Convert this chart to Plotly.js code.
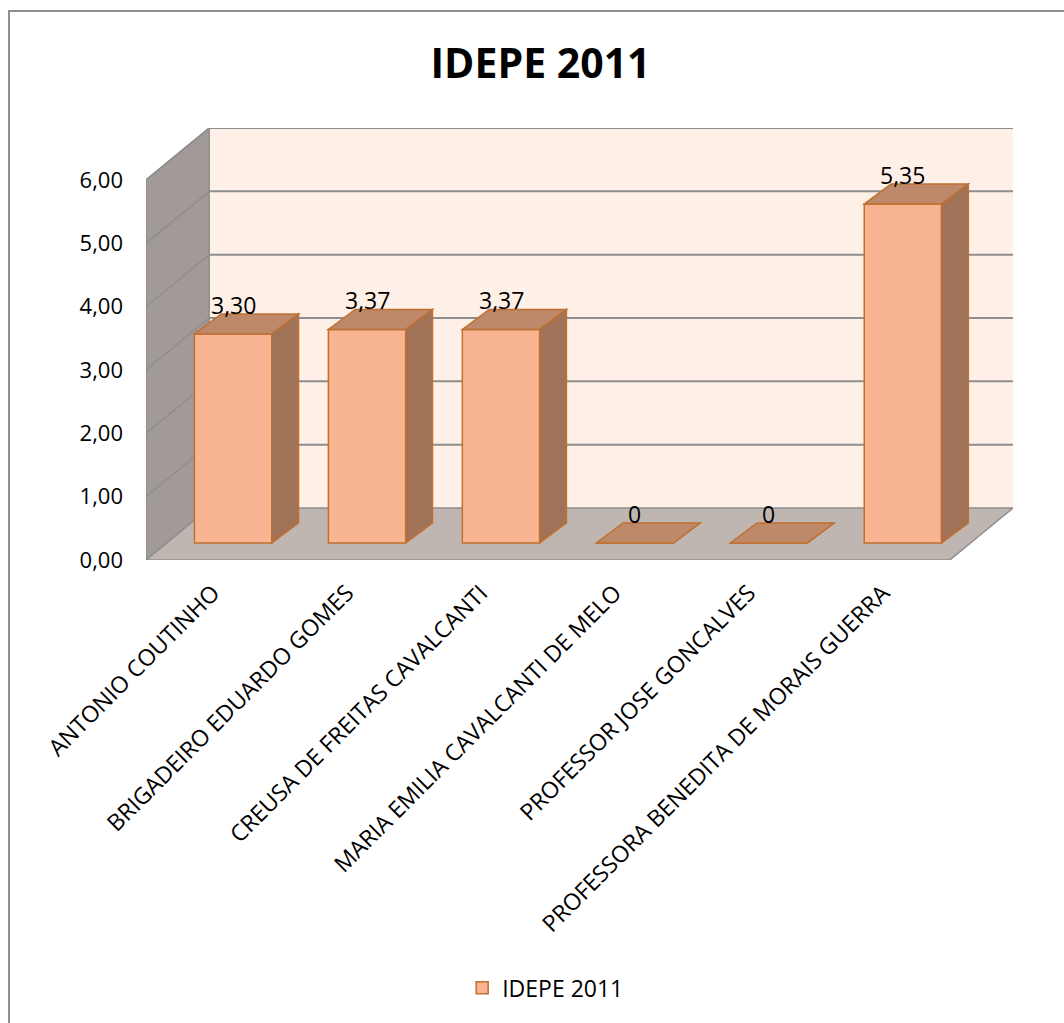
<!DOCTYPE html>
<html>
<head>
<meta charset="utf-8">
<script src="https://cdn.plot.ly/plotly-3.0.1.min.js"></script>
<style>
  html, body { margin: 0; padding: 0; background: #ffffff; overflow: hidden; }
  #chart { width: 1064px; height: 1023px; }
</style>
</head>
<body>
<div id="chart"></div>
<script>
// ---- data ----
const categories = [
  "ANTONIO COUTINHO",
  "BRIGADEIRO EDUARDO GOMES",
  "CREUSA DE FREITAS CAVALCANTI",
  "MARIA EMILIA CAVALCANTI DE MELO",
  "PROFESSOR JOSE GONCALVES",
  "PROFESSORA BENEDITA DE MORAIS GUERRA"
];
const values = [3.30, 3.37, 3.37, 0, 0, 5.35];
const seriesName = "IDEPE 2011";
const yTicks = [0, 1, 2, 3, 4, 5, 6];

// ---- 3D look parameters (in axis units) ----
const WALL_DX = 0.472, WALL_DY = 0.821;   // depth of the box (back wall offset)
const BAR_DX = 0.15, BAR_DY = 0.27;       // bar front face offset from front plane
const TOP_DX = 0.20, TOP_DY = 0.316;      // bar depth
const BAR_W = 0.577;
const YMAX = 6;

const fmt = v => v === 0 ? "0" : v.toFixed(2).replace(".", ",");
const idx = categories.map((c, i) => i);

const cFront = "#F9B592", cTop = "#BE896B", cSide = "#A07258", cEdge = "#C0702F";
const cGrid = "#8E8E8E", cBack = "#FEEFE7", cLeft = "#A29A96", cFloor = "#C0B6B1";

const shapes = [];
const X0 = -0.5, X1 = categories.length - 0.5;
// back wall
shapes.push({type: "rect", layer: "below", xref: "x", yref: "y",
  x0: X0 + WALL_DX, x1: X1 + WALL_DX, y0: WALL_DY, y1: YMAX + WALL_DY,
  fillcolor: cBack, line: {width: 0}});
// left wall
shapes.push({type: "path", layer: "below", xref: "x", yref: "y",
  path: `M${X0},0 L${X0},${YMAX} L${X0 + WALL_DX},${YMAX + WALL_DY} L${X0 + WALL_DX},${WALL_DY} Z`,
  fillcolor: cLeft, line: {color: cGrid, width: 1.5}});
// floor
shapes.push({type: "path", layer: "below", xref: "x", yref: "y",
  path: `M${X0},0 L${X1},0 L${X1 + WALL_DX},${WALL_DY} L${X0 + WALL_DX},${WALL_DY} Z`,
  fillcolor: cFloor, line: {color: cGrid, width: 1.5}});
// gridlines on back wall & left wall
yTicks.forEach(v => {
  if (v === 0) return;
  shapes.push({type: "line", layer: "below", xref: "x", yref: "y",
    x0: X0 + WALL_DX, x1: X1 + WALL_DX, y0: v + WALL_DY, y1: v + WALL_DY,
    line: {color: cGrid, width: 2}});
  shapes.push({type: "line", layer: "below", xref: "x", yref: "y",
    x0: X0, x1: X0 + WALL_DX, y0: v, y1: v + WALL_DY,
    line: {color: cGrid, width: 1.5}});
});
// bar top and side faces
values.forEach((v, i) => {
  const xl = i + BAR_DX - BAR_W / 2, xr = i + BAR_DX + BAR_W / 2;
  const b = BAR_DY, t = BAR_DY + v;
  shapes.push({type: "path", layer: "above", xref: "x", yref: "y",
    path: `M${xl},${t} L${xr},${t} L${xr + TOP_DX},${t + TOP_DY} L${xl + TOP_DX},${t + TOP_DY} Z`,
    fillcolor: cTop, line: {color: cEdge, width: 1.5}});
  if (v > 0) {
    shapes.push({type: "path", layer: "above", xref: "x", yref: "y",
      path: `M${xr},${b} L${xr},${t} L${xr + TOP_DX},${t + TOP_DY} L${xr + TOP_DX},${b + TOP_DY} Z`,
      fillcolor: cSide, line: {color: cEdge, width: 1.5}});
  }
});
// chart frame (left and top edges)
shapes.push({type: "path", layer: "above", xref: "paper", yref: "paper",
  path: "M-0.158,-1.08 L-0.158,1.271 L1.07,1.271",
  line: {color: "#8f8f8f", width: 2}});

const annotations = values.map((v, i) => ({
  xref: "x", yref: "y", x: i + BAR_DX, y: v + BAR_DY + TOP_DY,
  text: fmt(v), showarrow: false, yanchor: "bottom", yshift: -9,
  font: {family: "Open Sans", size: 23, color: "#000"}
}));

const trace = {
  type: "bar",
  name: seriesName,
  x: idx.map(i => i + BAR_DX),
  y: values,
  base: BAR_DY,
  width: BAR_W,
  marker: {color: cFront, line: {color: cEdge, width: 1.5}},
  hoverinfo: "skip",
  showlegend: true
};

const layout = {
  width: 1064, height: 1023,
  margin: {l: 146, r: 51, t: 128, b: 463},
  paper_bgcolor: "#ffffff",
  plot_bgcolor: "rgba(0,0,0,0)",
  separators: ",.",
  title: {text: "<b>IDEPE 2011</b>", x: 0.508, xanchor: "center", y: 0.938, yanchor: "middle",
          font: {family: "Open Sans", size: 41, color: "#000"}},
  xaxis: {
    range: [X0, X1 + WALL_DX],
    tickmode: "array", tickvals: idx, ticktext: categories,
    tickangle: -45, showgrid: false, zeroline: false, showline: false, ticks: "",
    ticklabelstandoff: 14,
    tickfont: {family: "Open Sans", size: 23, color: "#000"},
    fixedrange: true
  },
  yaxis: {
    range: [0, YMAX + WALL_DY],
    tickmode: "array", tickvals: yTicks, ticktext: yTicks.map(v => v.toFixed(2).replace(".", ",")),
    showgrid: false, zeroline: false, showline: false, ticks: "",
    ticklabelstandoff: 22,
    tickfont: {family: "Open Sans", size: 22, color: "#000"},
    fixedrange: true
  },
  showlegend: true,
  legend: {orientation: "h", x: 0.461, xanchor: "center", y: -0.99, yanchor: "middle",
           font: {family: "Open Sans", size: 23, color: "#000"}, bgcolor: "rgba(0,0,0,0)"},
  shapes: shapes,
  annotations: annotations,
  hovermode: false
};

Plotly.newPlot("chart", [trace], layout, {displayModeBar: false, staticPlot: true});
</script>
</body>
</html>
